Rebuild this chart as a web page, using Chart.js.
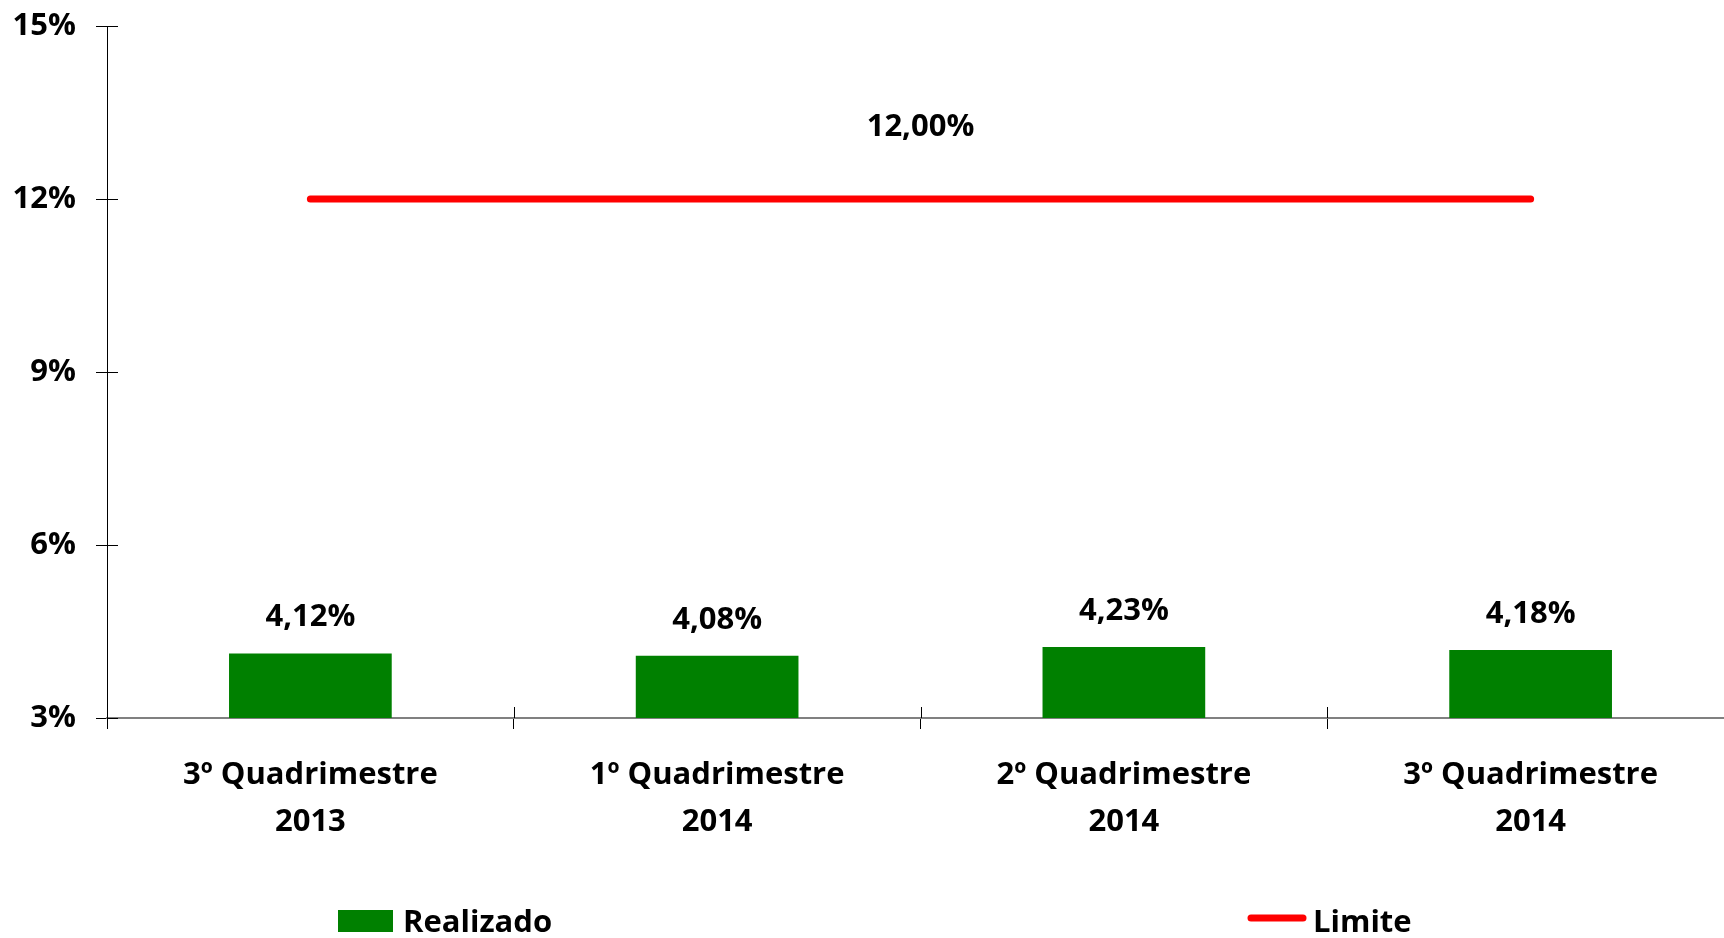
<!DOCTYPE html>
<html>
<head>
<meta charset="utf-8">
<script src="https://cdn.jsdelivr.net/npm/chart.js@4"></script>
<style>
  html, body { margin: 0; padding: 0; overflow: hidden; background: #fff; }
  #wrap { width: 1734px; height: 938px; }
</style>
</head>
<body>
<div id="wrap"><canvas id="chart" width="1734" height="938"></canvas></div>
<script>
const categories = [
  ["3º Quadrimestre", "2013"],
  ["1º Quadrimestre", "2014"],
  ["2º Quadrimestre", "2014"],
  ["3º Quadrimestre", "2014"],
];
const realizado = [4.12, 4.08, 4.23, 4.18];
const limite = [12, 12, 12, 12];
const yTicks = [3, 6, 9, 12, 15];

const FONT = '"Open Sans", Lato, sans-serif';
const SIZE = 31;
const fmt = (v) => v.toFixed(2).replace(".", ",") + "%";

// tick marks in the reference cross the axis lines
const crossTicks = {
  id: "crossTicks",
  afterDraw(chart) {
    const { ctx, chartArea, scales } = chart;
    ctx.save();
    ctx.strokeStyle = "#000";
    ctx.lineWidth = 1;
    ctx.beginPath();
    scales.y.ticks.forEach((t) => {
      const y = Math.round(scales.y.getPixelForValue(t.value)) + 0.5;
      ctx.moveTo(chartArea.left, y);
      ctx.lineTo(chartArea.left + 11, y);
    });
    for (let i = 1; i < categories.length; i++) {
      const x = Math.round((scales.x.getPixelForValue(i - 1) + scales.x.getPixelForValue(i)) / 2) + 0.5;
      ctx.moveTo(x, chartArea.bottom);
      ctx.lineTo(x, chartArea.bottom - 11);
    }
    ctx.stroke();
    ctx.restore();
  },
};

const valueLabels = {
  id: "valueLabels",
  afterDatasetsDraw(chart) {
    const ctx = chart.ctx;
    ctx.save();
    ctx.fillStyle = "#000";
    ctx.font = `bold ${SIZE}px ${FONT}`;
    ctx.textAlign = "center";
    ctx.textBaseline = "alphabetic";
    chart.getDatasetMeta(0).data.forEach((bar, i) => {
      ctx.fillText(fmt(realizado[i]), bar.x, bar.y - 27);
    });
    const pts = chart.getDatasetMeta(1).data;
    const mid = (pts[0].x + pts[pts.length - 1].x) / 2;
    ctx.fillText(fmt(limite[0]), mid, pts[0].y - 63);
    ctx.restore();
  },
};

const bottomLegend = {
  id: "bottomLegend",
  afterDraw(chart) {
    const ctx = chart.ctx;
    const [bars, line] = chart.data.datasets;
    const base = 932;
    ctx.save();
    ctx.font = `bold ${SIZE}px ${FONT}`;
    ctx.textAlign = "left";
    ctx.textBaseline = "alphabetic";
    ctx.fillStyle = bars.backgroundColor;
    ctx.fillRect(338, 910, 55, 22);
    ctx.fillStyle = "#000";
    ctx.fillText(bars.label, 403, base);
    ctx.strokeStyle = line.borderColor;
    ctx.lineWidth = 7;
    ctx.lineCap = "round";
    ctx.beginPath();
    ctx.moveTo(1251, 918);
    ctx.lineTo(1303, 918);
    ctx.stroke();
    ctx.fillText(line.label, 1313, base);
    ctx.restore();
  },
};

new Chart(document.getElementById("chart"), {
  data: {
    labels: categories,
    datasets: [
      {
        type: "bar",
        label: "Realizado",
        data: realizado,
        backgroundColor: "#008000",
        barPercentage: 0.4,
        categoryPercentage: 1,
        order: 2,
      },
      {
        type: "line",
        label: "Limite",
        data: limite,
        borderColor: "#FF0000",
        borderWidth: 7,
        borderCapStyle: "round",
        pointRadius: 0,
        fill: false,
        order: 1,
      },
    ],
  },
  options: {
    responsive: false,
    animation: false,
    layout: { padding: { top: 26, right: 0, bottom: 80, left: 0 } },
    plugins: { legend: { display: false }, tooltip: { enabled: false } },
    scales: {
      x: {
        offset: true,
        grid: { drawOnChartArea: false, tickLength: 11, color: "#000", offset: true },
        border: { color: "#808080", width: 2 },
        ticks: {
          color: "#000",
          padding: 23,
          font: { family: FONT, size: SIZE, weight: "bold", lineHeight: 1.5 },
          maxRotation: 0,
        },
        afterFit: (s) => { s.height = 140; s.paddingLeft = 0; s.paddingRight = 0; },
      },
      y: {
        min: 3,
        max: 15,
        afterBuildTicks: (s) => { s.ticks = yTicks.map((v) => ({ value: v })); },
        grid: { drawOnChartArea: false, tickLength: 11, color: "#000" },
        border: { color: "#000", width: 1 },
        ticks: {
          color: "#000",
          padding: 20,
          font: { family: FONT, size: SIZE, weight: "bold" },
          callback: (v) => v + "%",
        },
        afterFit: (s) => { s.width = 107; s.paddingTop = 0; s.paddingBottom = 0; },
      },
    },
  },
  plugins: [crossTicks, valueLabels, bottomLegend],
});
</script>
</body>
</html>
